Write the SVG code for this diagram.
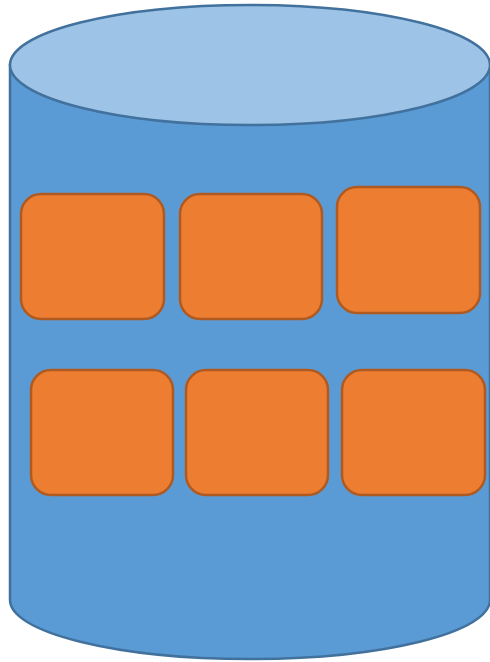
<svg xmlns="http://www.w3.org/2000/svg" width="490" height="662" viewBox="0 0 490 662">
<style>
.body{fill:#5B9BD5;stroke:#41719C;stroke-width:2.5}
.top{fill:#9DC3E6;stroke:#41719C;stroke-width:2.5}
.box{fill:#ED7D31;stroke:#AE5A21;stroke-width:2.5}
</style>
<rect width="490" height="662" fill="#ffffff"/>
<g id="cylinder">
<path class="body" d="M10,65 L10,600 A240,59 0 0 0 490,600 L490,65 Z"/>
<ellipse class="top" cx="250" cy="65" rx="240" ry="60"/>
</g>
<g id="box1"><rect class="box" x="21" y="194" width="143" height="125" rx="20"/></g>
<g id="box2"><rect class="box" x="180" y="194" width="142" height="125" rx="20"/></g>
<g id="box3"><rect class="box" x="337" y="187" width="143" height="126" rx="20"/></g>
<g id="box4"><rect class="box" x="31" y="370" width="142" height="125" rx="20"/></g>
<g id="box5"><rect class="box" x="186" y="370" width="142" height="125" rx="20"/></g>
<g id="box6"><rect class="box" x="342" y="370" width="143" height="125" rx="20"/></g>
<g id="connectors"></g>
</svg>
